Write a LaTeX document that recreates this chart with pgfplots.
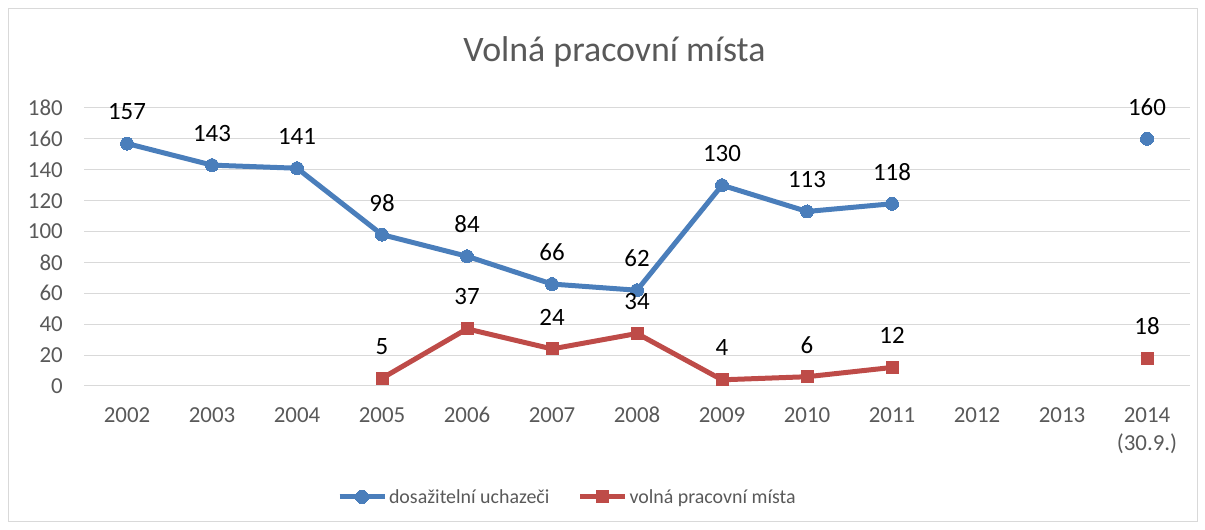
\documentclass[border=0pt]{standalone}
\usepackage{fontspec}
\setmainfont{Carlito}
\usepackage{pgfplots}
\pgfplotsset{compat=1.18}
\definecolor{cblue}{RGB}{74,126,187}
\definecolor{cred}{RGB}{190,75,72}
\definecolor{cgrid}{RGB}{217,217,217}
\definecolor{ctext}{RGB}{89,89,89}
\begin{document}
\begin{tikzpicture}[x=1bp,y=1bp]
\useasboundingbox (-84.5,-144) rectangle (1120.5,386);
\draw[cgrid, line width=1bp] (-75.5,-136) rectangle (1112.5,377);
\node[text=ctext, font=\fontsize{36}{40}\selectfont, inner sep=0pt] at (530,334) {Volná pracovní místa};
\begin{axis}[
  at={(0,0)}, anchor=south west,
  scale only axis, width=1105bp, height=278bp,
  xmin=-0.5, xmax=12.5, ymin=0, ymax=180,
  xtick={0,...,12},
  xticklabels={2002,2003,2004,2005,2006,2007,2008,2009,2010,2011,2012,2013,{2014\\(30.9.)}},
  ytick={0,20,...,180},
  ymajorgrids, grid style={cgrid, line width=1bp},
  axis line style={draw=none},
  major tick length=0pt,
  /pgf/number format/assume math mode=true,
  tick label style={text=ctext, font=\fontsize{23}{29}\selectfont},
  yticklabel style={inner sep=0pt, anchor=east, xshift=-21.5bp},
  xticklabel style={inner sep=0pt, anchor=north, yshift=-21bp, align=center},
  clip=false,
  unbounded coords=jump,
  nodes near coords,
  every node near coord/.append style={text=black, font=\fontsize{25}{30}\selectfont, anchor=center, inner sep=0pt, yshift=32bp},
  legend columns=2,
  legend style={draw=none, fill=none, at={(0.437,-0.399)}, anchor=center,
    font=\fontsize{20}{24}\selectfont, text=ctext,
    /tikz/every even column/.append style={column sep=26bp},
    inner sep=0pt, nodes={inner sep=2bp}},
  legend image code/.code={\draw[mark repeat=2,mark phase=2,#1] plot coordinates {(0bp,0bp) (22.5bp,0bp) (45bp,0bp)};},
]
\addplot[cblue, line width=5bp, mark=*, mark size=6.5bp, mark options={line width=0pt}] coordinates {
(0,157) (1,143) (2,141) (3,98) (4,84) (5,66) (6,62) (7,130) (8,113) (9,118) (10,nan) (11,nan) (12,160)};
\addlegendentry{dosažitelní uchazeči}
\addplot[cred, line width=5bp, mark=square*, mark size=6bp, mark options={line width=0pt}] coordinates {
(3,5) (4,37) (5,24) (6,34) (7,4) (8,6) (9,12) (10,nan) (11,nan) (12,18)};
\addlegendentry{volná pracovní místa}
\end{axis}
\end{tikzpicture}
\end{document}
